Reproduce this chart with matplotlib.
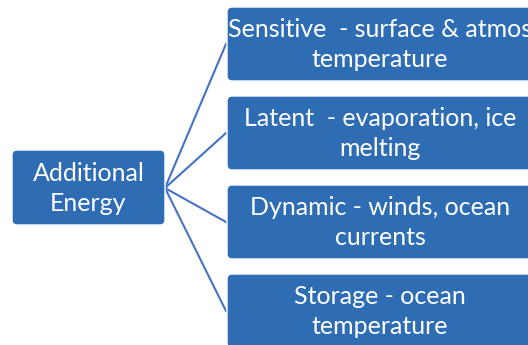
import matplotlib.pyplot as plt
from matplotlib.patches import FancyBboxPatch

# diagram content
root_label = 'Additional\nEnergy'
child_labels = [
    'Sensitive  - surface & atmos\ntemperature',
    'Latent  - evaporation, ice\nmelting',
    'Dynamic - winds, ocean\ncurrents',
    'Storage - ocean\ntemperature',
]

box_color = '#2E6DB4'
line_color = '#4472C4'

fig = plt.figure(figsize=(5.28, 3.45), dpi=100)
ax = fig.add_axes([0, 0, 1, 1])
ax.set_xlim(0, 528)
ax.set_ylim(345, 0)
ax.axis('off')

# root box
rx0, ry0, rx1, ry1 = 12, 150, 165, 225
ax.add_patch(FancyBboxPatch((rx0, ry0), rx1 - rx0, ry1 - ry0,
                            boxstyle='round,pad=0,rounding_size=5',
                            fc=box_color, ec='white', lw=1, zorder=2))
ax.text((rx0 + rx1) / 2, (ry0 + ry1) / 2 + 1, root_label, ha='center', va='center',
        color='white', fontsize=18, family='Lato', linespacing=1.35, zorder=3)

# child boxes
cx0, cx1 = 227, 533
top, h, gap = 7, 74, 15
for i, lab in enumerate(child_labels):
    y0 = top + i * (h + gap)
    ax.add_patch(FancyBboxPatch((cx0, y0), cx1 - cx0, h,
                                boxstyle='round,pad=0,rounding_size=5',
                                fc=box_color, ec='white', lw=1, zorder=2))
    ax.text((cx0 + cx1) / 2, y0 + h / 2 + 0.5, lab, ha='center', va='center',
            color='white', fontsize=18, family='Lato', linespacing=1.35, zorder=3)
    ax.plot([rx1, cx0 - 1], [188, y0 + h / 2], color=line_color, lw=1.5, zorder=1)

fig.savefig('out.png', dpi=100)
